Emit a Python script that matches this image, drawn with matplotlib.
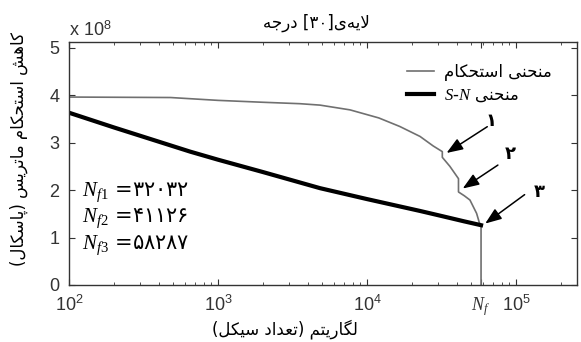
import re
import numpy as np
import matplotlib
matplotlib.use("Agg")
import matplotlib.pyplot as plt

plt.rcParams['font.family'] = ['Liberation Sans', 'DejaVu Sans']
plt.rcParams['mathtext.fontset'] = 'custom'
plt.rcParams['mathtext.it'] = 'Liberation Serif:italic'
plt.rcParams['mathtext.rm'] = 'Liberation Serif'

# data (stress in units of 1e8 Pa)
nf = [32032, 41126, 58287]
nf_labels = ['۳۲۰۳۲', '۴۱۱۲۶', '۵۸۲۸۷']

strength_cycles = [100, 480, 1000, 2000, 3550, 4840, 7690, 12000, 16600, 22700,
                   27800, 32032, 32032, 36000, 41126, 41126, 45000, 49100, 54400,
                   56800, 58287, 58287]
strength_vals = [3.96, 3.95, 3.89, 3.85, 3.82, 3.79, 3.69, 3.52, 3.34, 3.13,
                 2.93, 2.81, 2.69, 2.50, 2.24, 1.96, 1.88, 1.79, 1.51,
                 1.31, 1.26, 0.0]

sn_cycles = [100, 200, 650, 1000, 2000, 4840, 10000, 22700, 32032, 45000, 58287]
sn_vals = [3.63, 3.32, 2.81, 2.64, 2.38, 2.04, 1.81, 1.56, 1.45, 1.34, 1.26]

xticks = [1e2, 1e3, 1e4, 1e5]

# --- minimal persian shaping + visual ordering (matplotlib has no bidi) ---
FORMS = {
    'ا': ('\uFE8D', '\uFE8E', None, None),
    'د': ('\uFEA9', '\uFEAA', None, None),
    'ر': ('\uFEAD', '\uFEAE', None, None),
    'پ': ('\uFB56', '\uFB57', '\uFB58', '\uFB59'),
    'ت': ('\uFE95', '\uFE96', '\uFE97', '\uFE98'),
    'ج': ('\uFE9D', '\uFE9E', '\uFE9F', '\uFEA0'),
    'ح': ('\uFEA1', '\uFEA2', '\uFEA3', '\uFEA4'),
    'س': ('\uFEB1', '\uFEB2', '\uFEB3', '\uFEB4'),
    'ش': ('\uFEB5', '\uFEB6', '\uFEB7', '\uFEB8'),
    'ع': ('\uFEC9', '\uFECA', '\uFECB', '\uFECC'),
    'ک': ('\uFB8E', '\uFB8F', '\uFB90', '\uFB91'),
    'گ': ('\uFB92', '\uFB93', '\uFB94', '\uFB95'),
    'ل': ('\uFEDD', '\uFEDE', '\uFEDF', '\uFEE0'),
    'م': ('\uFEE1', '\uFEE2', '\uFEE3', '\uFEE4'),
    'ن': ('\uFEE5', '\uFEE6', '\uFEE7', '\uFEE8'),
    'ه': ('\uFEE9', '\uFEEA', '\uFEEB', '\uFEEC'),
    'ی': ('\uFBFC', '\uFBFD', '\uFBFE', '\uFBFF'),
}


def shape(text):
    out = []
    i = 0
    while i < len(text):
        c = text[i]
        prev = text[i - 1] if i > 0 else None
        jp = prev in FORMS and FORMS[prev][2] is not None
        if c == 'ل' and i + 1 < len(text) and text[i + 1] == 'ا':
            out.append('\uFEFC' if jp else '\uFEFB')
            i += 2
            continue
        if c not in FORMS:
            if c != '\u200c':
                out.append(c)
            i += 1
            continue
        nxt = text[i + 1] if i + 1 < len(text) else None
        jn = nxt in FORMS and FORMS[c][2] is not None
        iso, fin, ini, med = FORMS[c]
        if jp and jn:
            out.append(med)
        elif jp:
            out.append(fin)
        elif jn:
            out.append(ini)
        else:
            out.append(iso)
        i += 1
    return ''.join(out)


LTR = r'[0-9A-Za-z۰-۹$\\{}_^\-]+'
MIRROR = str.maketrans('()[]', ')(][')


def fa(text):
    s = shape(text)
    parts = re.findall(LTR + '|' + LTR.replace('[', '[^', 1), s)
    vis = []
    for p in reversed(parts):
        if re.fullmatch(LTR, p):
            vis.append(p)
        else:
            vis.append(p[::-1].translate(MIRROR))
    return ''.join(vis)


fig = plt.figure(figsize=(5.81, 3.42), dpi=100)
ax = fig.add_axes([0.1188, 0.1667, 0.8744, 0.7105])

ax.plot(strength_cycles, strength_vals, color='#707070', lw=1.2,
        label=fa('منحنی استحکام'))
ax.plot(sn_cycles, sn_vals, color='black', lw=3,
        label=fa('منحنی $S$-$N$'))

ax.set_xscale('log')
ax.set_xlim(100, 2.57e5)
ax.set_ylim(0, 5.12)
ax.set_yticks([0, 1, 2, 3, 4, 5])
ax.set_yticklabels(['0', '1', '2', '3', '4', '5'])
ax.set_xticks(xticks + [nf[2]])
ax.set_xticklabels([r'$\mathdefault{10^{%d}}$' % np.log10(t) for t in xticks] + [r'$N_f$'])
ax.get_xticklabels()[-1].set_fontsize(16)

ax.tick_params(which='both', direction='in', top=True, right=True,
               colors='#333333', labelsize=13)
ax.tick_params(axis='y', pad=7)
ax.tick_params(axis='x', pad=7)
ax.tick_params(which='major', length=4)
ax.tick_params(which='minor', length=2.5)
for sp in ax.spines.values():
    sp.set_color('#333333')
    sp.set_linewidth(1.0)

ax.set_ylabel(fa('کاهش استحکام ماتریس (پاسکال)'), fontsize=12, family='DejaVu Sans')
ax.yaxis.set_label_coords(-0.08, 0.56)
ax.set_xlabel(fa('لگاریتم (تعداد سیکل)'), fontsize=12, family='DejaVu Sans')
ax.xaxis.set_label_coords(0.425, -0.14)

ax.text(0.486, 1.08, fa('لایه\u200cی[۳۰] درجه'), transform=ax.transAxes,
        ha='center', va='center', fontsize=12, family='DejaVu Sans')
ax.text(0.0, 1.05, r'x 10$^{\mathdefault{8}}$', transform=ax.transAxes,
        ha='left', va='center', fontsize=13, color='#333333')

# Nf values
for k, (lab, yy) in enumerate(zip(nf_labels, [0.383, 0.276, 0.165])):
    ax.text(0.026, yy, r'$N_{f%d}$ =' % (k + 1) + lab, transform=ax.transAxes,
            ha='left', va='center', fontsize=15, family='DejaVu Sans')

# arrows to the drops
step_vals = [2.75, 2.0, 1.26]
offsets = [(31, 20), (27, 18), (30, 22)]
label_off = [(35, 24), (37, 26), (42, 24)]
for k in range(3):
    ax.annotate('', xy=(nf[k] * 1.03, step_vals[k]), xytext=offsets[k],
                textcoords='offset points',
                arrowprops=dict(arrowstyle='-|>,head_length=0.45,head_width=0.17',
                                mutation_scale=22, color='black', lw=1.1,
                                shrinkA=0, shrinkB=2))
    ax.annotate(['۱', '۲', '۳'][k], xy=(nf[k], step_vals[k]), xytext=label_off[k],
                textcoords='offset points', ha='center', va='center',
                fontsize=13, fontweight='bold', family='DejaVu Sans')

ax.legend(loc='upper right', bbox_to_anchor=(0.975, 0.86),
          bbox_transform=fig.transFigure, frameon=False,
          prop={'family': 'DejaVu Sans', 'size': 12}, handlelength=1.6,
          handletextpad=0.6, labelspacing=0.3)

fig.savefig('out.png', dpi=100)
